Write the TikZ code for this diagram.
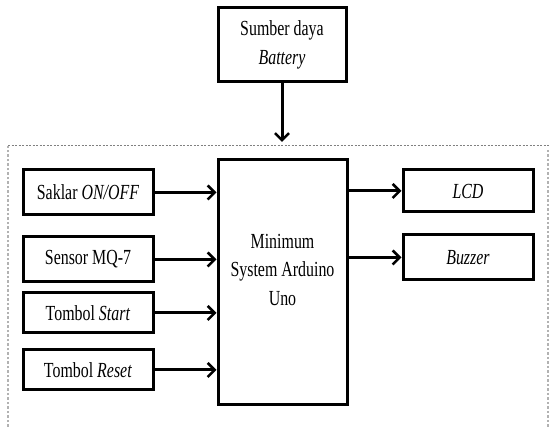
\documentclass[tikz,border=0pt]{standalone}
\usepackage{fontspec}
\setmainfont{Liberation Serif}[FakeStretch=0.74]
\usepackage{tikz}
\usetikzlibrary{arrows.meta}

\tikzset{
  blok/.style={rectangle, draw=black, line width=3pt, minimum width=130pt, align=center},
  panah/.style={line width=3pt, -{Straight Barb[length=7pt,width=14pt,line width=2.6pt]}},
  bingkai/.style={gray!60, line width=1.6pt, dash pattern=on 2.5pt off 2pt},
}

\begin{document}
\begin{tikzpicture}[x=1pt,y=-1pt]
\fontsize{21.5}{28.5}\selectfont
\useasboundingbox (0,0) rectangle (550,427);

% frame
\draw[gray, line width=0.8pt, dash pattern=on 2pt off 1.5pt] (8,145) -- (552,145);
\draw[bingkai] (8,427) -- (8,146);
\draw[bingkai] (548,150) -- (548,427);

\node[blok, minimum width=128pt, minimum height=74pt] (baterai) at (282,45) {Sumber daya\\\textit{Battery}};
\node[blok, minimum width=129pt, minimum height=245pt, text depth=26pt] (arduino) at (282.5,282.5) {Minimum\\System Arduino\\Uno};

\node[blok, minimum height=45pt] (saklar) at (88,192.5) {Saklar \textit{ON/OFF}};
\node[blok, minimum height=45pt] (sensor) at (88,259.5) {Sensor MQ-7};
\node[blok, minimum height=40pt] (start) at (88,313) {Tombol \textit{Start}};
\node[blok, minimum height=40pt] (reset) at (88,370) {Tombol \textit{Reset}};

\node[blok, minimum height=42pt] (lcd) at (468,191) {\textit{LCD}};
\node[blok, minimum height=45pt] (buzzer) at (468,257.5) {\textit{Buzzer}};

\coordinate (masuk) at (282,142);

\draw[panah] (baterai) -- (masuk);
\draw[panah] (saklar.east) -- (saklar.east -| arduino.west);
\draw[panah] (sensor.east) -- (sensor.east -| arduino.west);
\draw[panah] (start.east) -- (start.east -| arduino.west);
\draw[panah] (reset.east) -- (reset.east -| arduino.west);
\draw[panah] (lcd.west -| arduino.east) -- (lcd.west);
\draw[panah] (buzzer.west -| arduino.east) -- (buzzer.west);

\end{tikzpicture}
\end{document}
